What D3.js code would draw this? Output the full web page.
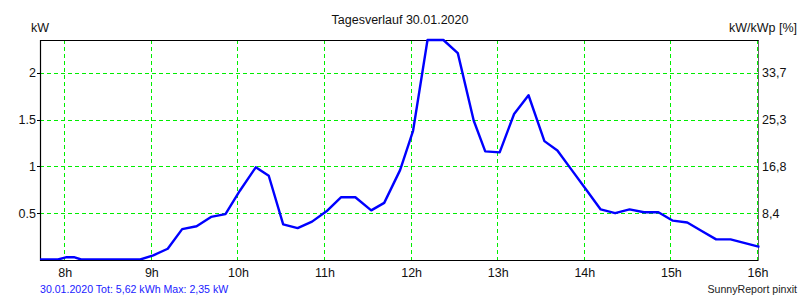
<!DOCTYPE html>
<html lang="de">
<head>
  <meta charset="UTF-8">
  <title>Tagesverlauf 30.01.2020</title>
  <script src="https://d3js.org/d3.v7.min.js"></script>
  <style>
    body { margin: 0; background: #fff; }
    svg { display: block; font-family: "Liberation Sans", Arial, sans-serif; }
  </style>
</head>
<body>
  <div id="chart"></div>
  <script>
    // Leistung in kW
    const times = ["07:41","07:51","07:55","08:01","08:06","08:11","08:21","08:31","08:41","08:52",
      "09:01","09:11","09:21","09:31","09:41","09:51","10:01","10:12","10:21","10:31",
      "10:41","10:51","11:01","11:11","11:21","11:32","11:41","11:52","12:01","12:11",
      "12:22","12:32","12:43","12:51","13:01","13:11","13:21","13:32","13:41","13:51",
      "14:01","14:11","14:21","14:31","14:41","14:51","15:01","15:11","15:21","15:31",
      "15:41","15:51","16:01"];
    const power = [0, 0, 0, 0.03, 0.03, 0, 0, 0, 0, 0,
      0.05, 0.12, 0.33, 0.36, 0.46, 0.49, 0.74, 0.99, 0.90, 0.38,
      0.34, 0.41, 0.52, 0.67, 0.67, 0.53, 0.61, 0.96, 1.38, 2.35,
      2.35, 2.21, 1.49, 1.16, 1.15, 1.56, 1.76, 1.27, 1.17, 0.96,
      0.75, 0.54, 0.50, 0.54, 0.51, 0.51, 0.42, 0.40, 0.31, 0.22,
      0.22, 0.18, 0.14];

    const hourTicks = [8, 9, 10, 11, 12, 13, 14, 15, 16];
    const kwTicks = [0.5, 1, 1.5, 2];
    const pctLabels = ["8,4", "16,8", "25,3", "33,7"];

    const width = 800, height = 300;
    const margin = {top: 40, right: 42, bottom: 40, left: 40};

    const toHours = s => { const p = s.split(":"); return +p[0] + p[1] / 60; };
    const data = times.map((t, i) => ({t: toHours(t), v: power[i]}));

    const svg = d3.select("#chart").append("svg")
      .attr("width", width).attr("height", height);

    const x = d3.scaleLinear()
      .domain([7 + 42.5 / 60, 16])
      .range([margin.left, width - margin.right]);
    const y = d3.scaleLinear()
      .domain([0, 2.35])
      .range([height - margin.bottom, margin.top]);

    const x0 = margin.left, x1 = width - margin.right;
    const y0 = height - margin.bottom, y1 = margin.top;

    // Gitter
    svg.append("g").selectAll("line").data(kwTicks).join("line")
      .attr("x1", x0).attr("x2", x1)
      .attr("y1", d => Math.round(y(d)) + 0.5).attr("y2", d => Math.round(y(d)) + 0.5)
      .attr("stroke", "#00ee00").attr("stroke-dasharray", "4,3");
    svg.append("g").selectAll("line").data(hourTicks).join("line")
      .attr("x1", d => Math.round(x(d)) - 0.5).attr("x2", d => Math.round(x(d)) - 0.5)
      .attr("y1", y1).attr("y2", y0)
      .attr("stroke", "#00ee00").attr("stroke-dasharray", "4,3");

    // Rahmen
    svg.append("path")
      .attr("d", `M${x1 + 0.5},${y1 + 0.5}H${x0 + 0.5}V${y0 + 0.5}H${x1 + 0.5}`)
      .attr("fill", "none").attr("stroke", "#000").attr("stroke-width", 1.2);
    svg.append("line")
      .attr("x1", x1 + 0.5).attr("x2", x1 + 0.5).attr("y1", y1).attr("y2", y0)
      .attr("stroke", "#000").attr("stroke-width", 0.6);

    // Linie
    svg.append("clipPath").attr("id", "clip").append("rect")
      .attr("x", x0).attr("y", y1 - 2).attr("width", x1 - x0 + 2).attr("height", y0 - y1 + 2);
    const line = d3.line().x(d => x(d.t)).y(d => Math.min(y(d.v), y0 - 0.5));
    svg.append("path").datum(data)
      .attr("clip-path", "url(#clip)")
      .attr("fill", "none").attr("stroke", "#0000ff")
      .attr("stroke-width", 2.4).attr("stroke-linejoin", "round")
      .attr("d", line);

    // Achsenbeschriftung
    svg.append("g").selectAll("text").data(kwTicks).join("text")
      .attr("x", x0 - 4).attr("y", d => y(d)).attr("dy", "0.36em")
      .attr("text-anchor", "end").attr("font-size", 12.5).attr("fill", "#111")
      .text(d => d);
    svg.append("g").selectAll("line").data(kwTicks).join("line")
      .attr("x1", x0 - 3).attr("x2", x0).attr("y1", d => Math.round(y(d)) + 0.5).attr("y2", d => Math.round(y(d)) + 0.5)
      .attr("stroke", "#000");
    svg.append("g").selectAll("text").data(kwTicks).join("text")
      .attr("x", x1 + 4).attr("y", d => y(d)).attr("dy", "0.36em")
      .attr("text-anchor", "start").attr("font-size", 12.5).attr("fill", "#111")
      .text((d, i) => pctLabels[i]);
    svg.append("g").selectAll("text").data(hourTicks).join("text")
      .attr("x", d => x(d)).attr("y", y0 + 17)
      .attr("text-anchor", "middle").attr("font-size", 12.5).attr("fill", "#111")
      .text(d => d + "h");

    svg.append("text").attr("x", 400).attr("y", 24).attr("text-anchor", "middle")
      .attr("font-size", 12.5).attr("fill", "#111").text("Tagesverlauf 30.01.2020");
    svg.append("text").attr("x", 31).attr("y", 32)
      .attr("font-size", 12.5).attr("fill", "#111").text("kW");
    svg.append("text").attr("x", 797).attr("y", 32).attr("text-anchor", "end")
      .attr("font-size", 12.5).attr("fill", "#111").text("kW/kWp [%]");
    svg.append("text").attr("x", 40).attr("y", 293)
      .attr("font-size", 10.6).attr("fill", "#1a1aff").text("30.01.2020 Tot: 5,62 kWh Max: 2,35 kW");
    svg.append("text").attr("x", 797).attr("y", 293).attr("text-anchor", "end")
      .attr("font-size", 10.6).attr("fill", "#222").text("SunnyReport pinxit");
  </script>
</body>
</html>
